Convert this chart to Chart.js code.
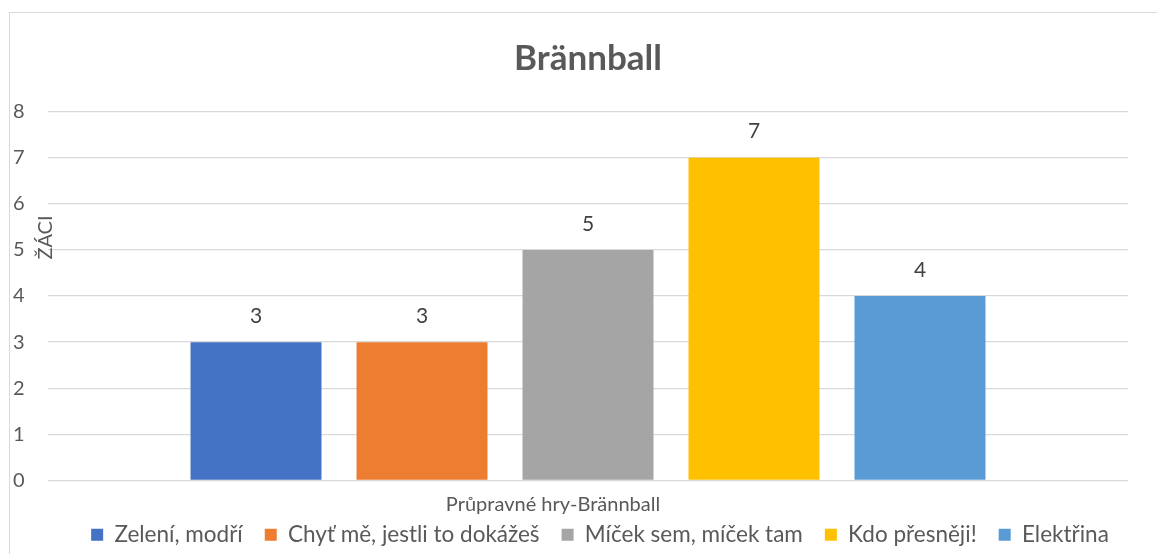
<!DOCTYPE html>
<html><head><meta charset="utf-8">
<script src="https://cdn.jsdelivr.net/npm/chart.js@4.4.1/dist/chart.umd.min.js"></script>
<style>
html,body{margin:0;padding:0;background:#fff;overflow:hidden;width:1157px;height:554px;}
#frame{position:absolute;left:9px;top:12px;width:1200px;height:600px;border:1.5px solid #d9d9d9;box-sizing:border-box;}
#wrap{position:absolute;left:0;top:0;width:1157px;height:554px;}
</style></head><body>
<div id="frame"></div>
<div id="wrap"><canvas id="c" width="1157" height="554"></canvas></div>
<script>
const chartTitle = 'Brännball';
const yAxisTitle = 'ŽÁCI';
const categories = ['Průpravné hry-Brännball'];
const seriesNames = ['Zelení, modří', 'Chyť mě, jestli to dokážeš', 'Míček sem, míček tam', 'Kdo přesněji!', 'Elektřina'];
const zeleniModri = [3];
const chytMe = [3];
const micekSem = [5];
const kdoPresneji = [7];
const elektrina = [4];
const seriesValues = [zeleniModri, chytMe, micekSem, kdoPresneji, elektrina];
const seriesColors = ['#4472C4', '#ED7D31', '#A5A5A5', '#FFC000', '#5B9BD5'];
const yTickMin = 0, yTickMax = 8, yTickStep = 1;

const FONT = 'Lato';

const legendShift = {
  id: 'legendShift',
  afterLayout(chart) {
    if (chart.legend) { chart.legend.left += 12; chart.legend.right += 12; }
  }
};

const labelsPlugin = {
  id: 'labelsPlugin',
  afterDatasetsDraw(chart) {
    const ctx = chart.ctx;
    ctx.save();
    ctx.font = '21px ' + FONT;
    ctx.fillStyle = '#404040';
    ctx.textAlign = 'center';
    ctx.textBaseline = 'middle';
    chart.data.datasets.forEach((ds, i) => {
      chart.getDatasetMeta(i).data.forEach((bar, j) => {
        ctx.fillText(String(ds.data[j]), bar.x, bar.y - 26);
      });
    });
    // category label (x axis)
    const xs = chart.scales.x;
    const a = chart.chartArea;
    ctx.font = '20px ' + FONT;
    ctx.fillStyle = '#595959';
    categories.forEach((c, i) => {
      ctx.fillText(c, xs.getPixelForValue(i) - 35, a.bottom + 24);
    });
    // y axis title
    ctx.translate(a.left - 2, a.top + 126);
    ctx.rotate(-Math.PI / 2);
    ctx.font = '20px ' + FONT;
    ctx.fillText(yAxisTitle, 0, 0);
    ctx.restore();
  }
};

new Chart(document.getElementById('c'), {
  type: 'bar',
  data: {
    labels: categories,
    datasets: seriesNames.map((n, i) => ({
      label: n,
      data: seriesValues[i],
      backgroundColor: seriesColors[i],
      borderWidth: 0,
      categoryPercentage: 0.7685,
      barPercentage: 0.789
    }))
  },
  options: {
    responsive: false,
    animation: false,
    layout: { padding: { left: 48, right: 29, top: 0, bottom: -2 } },
    plugins: {
      title: {
        display: true, text: chartTitle, color: '#595959',
        font: { family: FONT, size: 35, weight: 'bold' },
        padding: { top: 37.5, bottom: 32 }
      },
      legend: {
        display: true, position: 'bottom',
        labels: {
          boxWidth: 12, boxHeight: 12, padding: 22, color: '#595959',
          font: { family: FONT, size: 22.5 }
        }
      },
      tooltip: { enabled: false }
    },
    scales: {
      x: {
        grid: { display: false, drawTicks: false },
        border: { display: false },
        ticks: { display: false },
        afterFit: (s) => { s.height = 21; }
      },
      y: {
        min: yTickMin, max: yTickMax,
        grid: { color: '#d9d9d9', lineWidth: 1.3, drawTicks: false },
        border: { display: false },
        ticks: { stepSize: yTickStep, color: '#595959', font: { family: FONT, size: 20 }, mirror: true, padding: -35 },
        afterFit: (s) => { s.width = 0; }
      }
    }
  },
  plugins: [legendShift, labelsPlugin]
});
</script>
</body></html>
